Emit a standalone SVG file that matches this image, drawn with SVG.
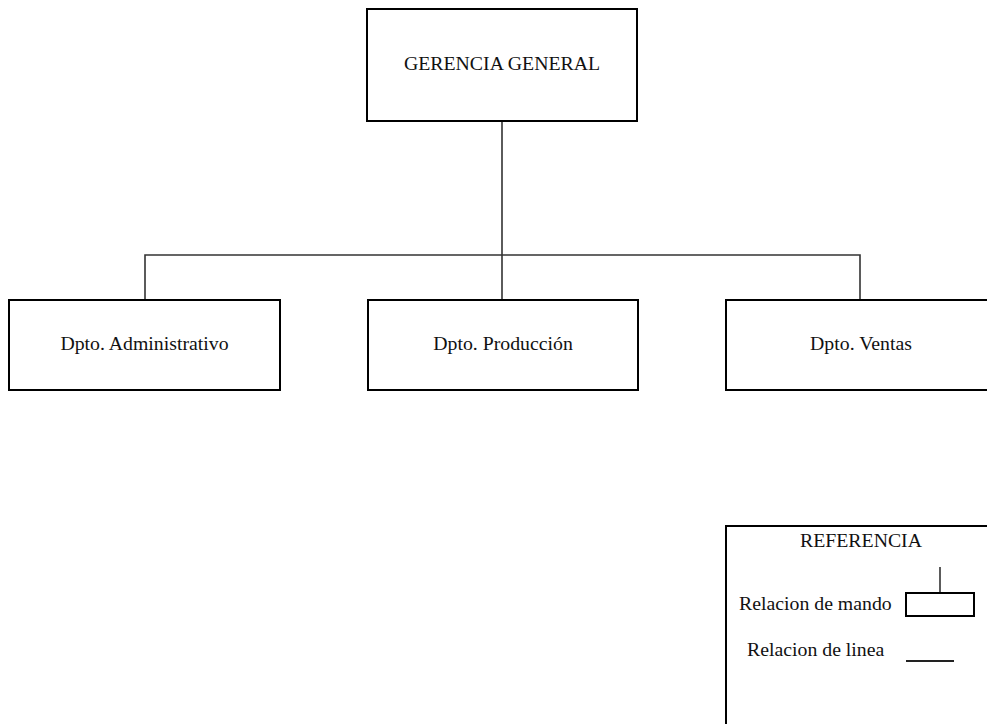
<svg xmlns="http://www.w3.org/2000/svg" width="987" height="724" viewBox="0 0 987 724">
  <style>
    .box { fill: #ffffff; stroke: #000000; stroke-width: 2; }
    .link { fill: none; stroke: #333333; stroke-width: 1.6; }
    .sample { fill: none; stroke: #222222; stroke-width: 2; }
    .lbl { font-family: "Liberation Serif", "Times New Roman", serif; font-size: 19.8px; fill: #111111; }
    .mid { text-anchor: middle; }
  </style>
  <rect width="987" height="724" fill="#ffffff"/>

  <!-- connectors -->
  <g id="connectors">
    <line class="link" x1="502" y1="121" x2="502" y2="300"/>
    <polyline class="link" points="145,300 145,255 860,255 860,300"/>
  </g>

  <g id="gerencia">
    <rect class="box" x="367" y="9" width="270" height="112"/>
    <text class="lbl mid" x="502" y="70">GERENCIA GENERAL</text>
  </g>

  <g id="administrativo">
    <rect class="box" x="9" y="300" width="271" height="90"/>
    <text class="lbl mid" x="144.5" y="350">Dpto. Administrativo</text>
  </g>

  <g id="produccion">
    <rect class="box" x="368" y="300" width="270" height="90"/>
    <text class="lbl mid" x="503" y="350">Dpto. Producción</text>
  </g>

  <g id="ventas">
    <rect class="box" x="726" y="300" width="272" height="90"/>
    <text class="lbl mid" x="861" y="350">Dpto. Ventas</text>
  </g>

  <!-- legend -->
  <g id="referencia">
    <rect class="box" x="726" y="526" width="272" height="210"/>
    <text class="lbl mid" x="861" y="547">REFERENCIA</text>
    <text class="lbl" x="739" y="610">Relacion de mando</text>
    <line class="link" x1="940" y1="567" x2="940" y2="593"/>
    <rect class="box" x="906" y="593" width="68" height="23"/>
    <text class="lbl" x="747" y="656">Relacion de linea</text>
    <line class="sample" x1="906" y1="661" x2="954" y2="661"/>
  </g>
</svg>
